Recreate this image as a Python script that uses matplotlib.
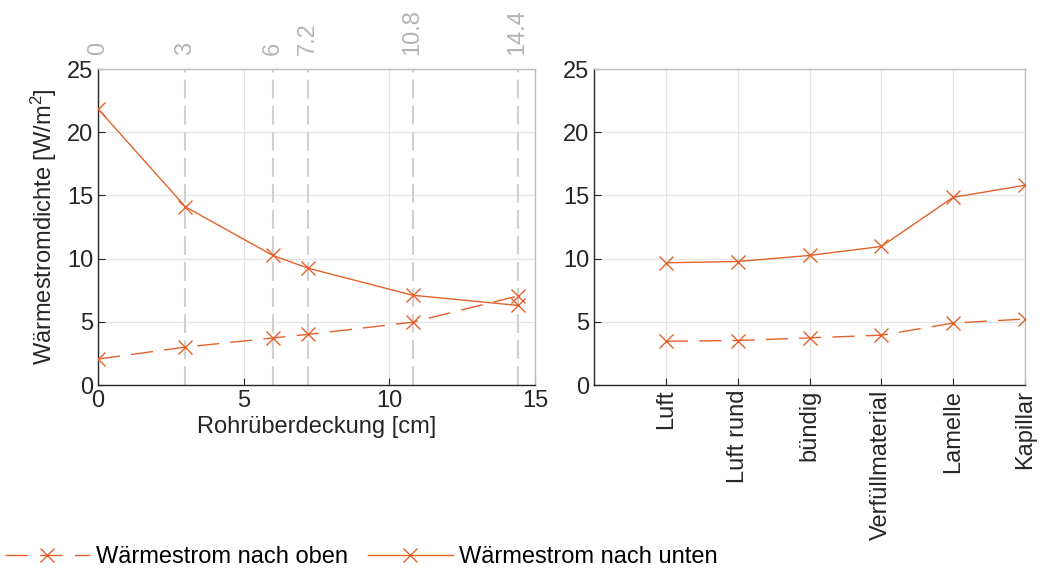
import matplotlib
matplotlib.use("Agg")
import matplotlib.pyplot as plt
from matplotlib.lines import Line2D

plt.rcParams['font.family'] = ['Liberation Sans', 'DejaVu Sans']
plt.rcParams['mathtext.fontset'] = 'custom'
plt.rcParams['mathtext.rm'] = 'Liberation Sans'
plt.rcParams['mathtext.it'] = 'Liberation Sans'

# Data
cover_cm = [0, 3, 6, 7.2, 10.8, 14.4]
cover_labels = ['0', '3', '6', '7.2', '10.8', '14.4']
down_left = [21.85, 14.1, 10.25, 9.25, 7.1, 6.3]
up_left = [2.05, 3.0, 3.72, 4.0, 4.97, 7.04]

categories = ['Luft', 'Luft rund', 'bündig', 'Verfüllmaterial', 'Lamelle', 'Kapillar']
down_right = [9.67, 9.77, 10.25, 10.96, 14.85, 15.8]
up_right = [3.46, 3.52, 3.73, 3.94, 4.9, 5.22]

label_up = 'Wärmestrom nach oben'
label_down = 'Wärmestrom nach unten'

col = '#E3622C'
dark = '#262626'
lightspine = '#BDBDBD'
gridc = '#E3E3E3'
fs = 17
dash = (0, (16, 8))
ms = 9.5

fig = plt.figure(figsize=(10.56, 5.72), dpi=100)
ax1 = fig.add_axes([98/1056, 1-385/572, (535-98)/1056, (385-69)/572])
ax2 = fig.add_axes([594/1056, 1-385/572, (1025-594)/1056, (385-69)/572])

def style(ax):
    ax.set_ylim(0, 25)
    ax.set_yticks([0, 5, 10, 15, 20, 25])
    ax.grid(True, color=gridc, linewidth=0.9)
    ax.set_axisbelow(True)
    for s in ['left', 'bottom']:
        ax.spines[s].set_color(dark)
        ax.spines[s].set_linewidth(1.0)
    for s in ['top', 'right']:
        ax.spines[s].set_color(lightspine)
        ax.spines[s].set_linewidth(1.0)
    ax.tick_params(direction='in', length=5, colors=dark, labelsize=fs, labelcolor=dark)

# Left plot
style(ax1)
ax1.set_xlim(0, 15)
ax1.set_xticks([0, 5, 10, 15])
for x in cover_cm:
    ax1.axvline(x, color='#D0D0D0', linewidth=1.5, linestyle=(0, (9, 3.5)), zorder=1)
ax1.plot(cover_cm, up_left, color=col, linewidth=1.0, linestyle=dash,
         marker='x', markersize=ms, markeredgewidth=1.0, zorder=3)
ax1.plot(cover_cm, down_left, color=col, linewidth=1.0, linestyle='-',
         marker='x', markersize=ms, markeredgewidth=1.0, zorder=3)
ax1.set_xlabel('Rohrüberdeckung [cm]', fontsize=fs, color=dark, labelpad=3)
ax1.set_ylabel('Wärmestromdichte [W/m$^2$]', fontsize=fs, color=dark, labelpad=6)

top = ax1.twiny()
top.set_xlim(ax1.get_xlim())
top.set_xticks(cover_cm)
top.set_xticklabels(cover_labels, rotation=90, color='#B4B4B4', fontsize=fs)
top.tick_params(axis='x', length=0, pad=10)
for s in top.spines.values():
    s.set_visible(False)

# Right plot
style(ax2)
xpos = list(range(1, len(categories) + 1))
ax2.set_xlim(0, 6)
ax2.set_xticks(xpos)
ax2.set_xticklabels(categories, rotation=90, fontsize=fs)
ax2.plot(xpos, up_right, color=col, linewidth=1.0, linestyle=dash,
         marker='x', markersize=ms, markeredgewidth=1.0, zorder=3)
ax2.plot(xpos, down_right, color=col, linewidth=1.0, linestyle='-',
         marker='x', markersize=ms, markeredgewidth=1.0, zorder=3)

handles = [
    Line2D([], [], color=col, linewidth=1.0, linestyle=(0, (16, 9)), marker='x',
           markersize=ms, markeredgewidth=1.0),
    Line2D([], [], color=col, linewidth=1.0, linestyle='-', marker='x',
           markersize=ms, markeredgewidth=1.0),
]
fig.legend(handles, [label_up, label_down], loc='center left',
           bbox_to_anchor=(0.0, 1-557/572), ncol=2, frameon=False,
           fontsize=fs, handlelength=3.6, handletextpad=0.25, columnspacing=0.85,
           borderaxespad=0, borderpad=0.2)

fig.savefig('out.png', dpi=100)
